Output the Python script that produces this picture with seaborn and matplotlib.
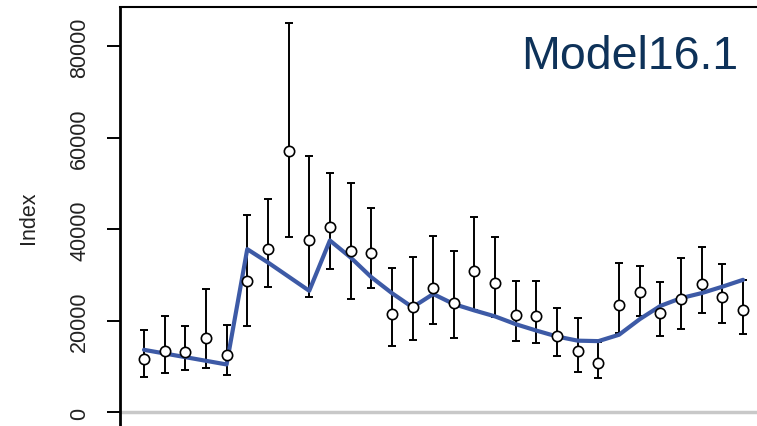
import matplotlib
matplotlib.use("Agg")
import matplotlib.pyplot as plt
import numpy as np
import pandas as pd
import seaborn as sns

# Observed index with its interval, plus the model fit, per period
period = list(range(1, 31))
index_obs = [11700, 13400, 13200, 16300, 12500, 28700, 35700, 57200, 37600, 40600,
             35200, 34900, 21500, 23100, 27200, 24000, 31000, 28400, 21300, 21000,
             16700, 13500, 10900, 23400, 26300, 21800, 24800, 28100, 25300, 22400]
upper = [18100, 21000, 18800, 27100, 19100, 43200, 46700, 85100, 56000, 52400,
         50100, 44600, 31600, 33900, 38500, 35400, 42700, 38300, 28700, 28700,
         22800, 20600, 15300, 32700, 32100, 28500, 33700, 36100, 32500, 29000]
lower = [7700, 8600, 9300, 9700, 8300, 19000, 27400, 38400, 25200, 31400,
         24800, 27200, 14600, 15900, 19300, 16300, 22400, 20800, 15700, 15200,
         12300, 8800, 7500, 17300, 21200, 16700, 18300, 21700, 19500, 17200]
fitted = [13700, 12900, 12100, 11300, 10500, 35700, 32800, 29700, 26600, 37600,
          33900, 29600, 26100, 23000, 25900, 23700, 22300, 21000, 19300, 17900,
          16600, 15700, 15600, 17000, 20400, 23300, 25000, 26100, 27500, 29000]
y_ticks = [0, 20000, 40000, 60000, 80000]

df = pd.DataFrame({"period": period, "index": index_obs, "upper": upper,
                   "lower": lower, "fitted": fitted})

sns.set_theme(style="white")
plt.rcParams["font.family"] = ["Liberation Sans", "DejaVu Sans"]

W, H = 757, 427
fig = plt.figure(figsize=(W / 100, H / 100), dpi=100)
ax = fig.add_axes([120 / W, 0, (767 - 120) / W, (H - 8) / H])

# zero reference line
ax.axhline(0, color="#c8c8c8", lw=2.5, zorder=1)

# interval bars
ax.errorbar(df["period"], df["index"],
            yerr=[df["index"] - df["lower"], df["upper"] - df["index"]],
            fmt="none", ecolor="black", elinewidth=1.4, capsize=3.0,
            capthick=1.4, zorder=2)

# model fit
sns.lineplot(data=df, x="period", y="fitted", color="#3d5aa6", lw=3,
             ax=ax, zorder=3)

# observed points
sns.scatterplot(data=df, x="period", y="index", s=55, color="white",
                edgecolor="black", linewidth=1.2, ax=ax, zorder=4)

ax.set_xlim(-0.16, 31.16)
ax.set_ylim(-2951, 88630)
ax.set_xticks([])
ax.set_yticks(y_ticks)
ax.set_yticklabels([str(t) for t in y_ticks], rotation=90, va="center")
ax.tick_params(axis="y", left=True, length=9.4, width=1.4, color="black",
               pad=12, labelsize=15.5, labelcolor="#222222")

ax.set_xlabel("")
ax.set_ylabel("Index", fontsize=15.5, color="#222222")
ax.yaxis.set_label_coords(-0.125, 0.5)

for side in ["bottom", "right"]:
    ax.spines[side].set_visible(False)
ax.spines["left"].set_color("black")
ax.spines["left"].set_linewidth(2.0)
ax.spines["top"].set_color("black")
ax.spines["top"].set_linewidth(1.5)

fig.text(738 / W, 1 - 69 / H, "Model16.1", ha="right", va="baseline",
         fontsize=33.5, color="#0e3259")

fig.savefig("out.png", dpi=100)
